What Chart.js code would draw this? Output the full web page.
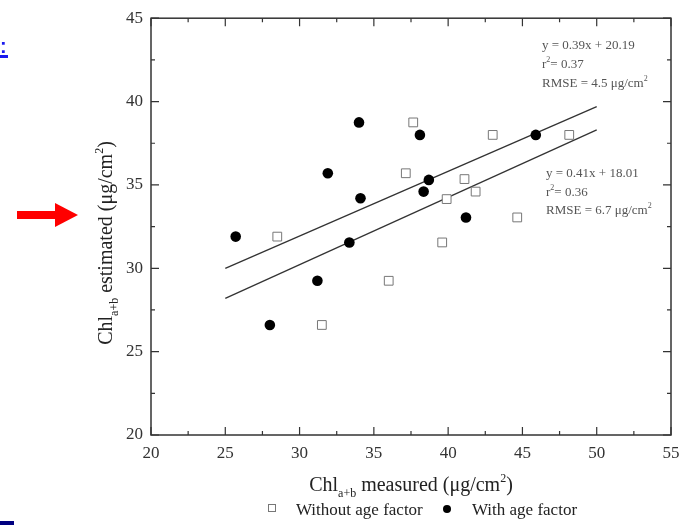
<!DOCTYPE html>
<html>
<head>
<meta charset="utf-8">
<script src="https://cdn.jsdelivr.net/npm/chart.js@4.4.1/dist/chart.umd.min.js"></script>
<style>
  html, body { margin: 0; padding: 0; background: #fff; }
  canvas { display: block; }
</style>
</head>
<body>
<canvas id="chlChart" width="689" height="525"></canvas>
<script>
// values (ug/cm2)
const withoutAgeX = [28.5, 31.5, 36.0, 37.15, 37.65, 39.6, 39.9, 41.1, 41.85, 43.0, 44.65, 48.15];
const withoutAgeY = [31.9, 26.6, 29.25, 35.7, 38.75, 31.55, 34.15, 35.35, 34.6, 38.0, 33.05, 38.0];
const withAgeX = [25.7, 28.0, 31.2, 31.9, 33.35, 34.0, 34.1, 38.1, 38.35, 38.7, 41.2, 45.9];
const withAgeY = [31.9, 26.6, 29.25, 35.7, 31.55, 38.75, 34.2, 38.0, 34.6, 35.3, 33.05, 38.0];

const fitX = [25, 50];
const fitUpperY = [30.0, 39.7];
const fitLowerY = [28.2, 38.3];

const upperText = ['y = 0.39x + 20.19', 'r2= 0.37', 'RMSE = 4.5 \u03bcg/cm2'];
const lowerText = ['y = 0.41x + 18.01', 'r2= 0.36', 'RMSE = 6.7 \u03bcg/cm2'];
const legendLabels = ['Without age factor', 'With age factor'];

const serif = '"Liberation Serif", "Times New Roman", serif';

function pts(xs, ys) {
    return xs.map((x, i) => ({ x: x, y: ys[i] }));
}

// text with sub / superscript pieces: [text, 'n'|'sub'|'sup']
function richWidth(ctx, parts, size) {
    let w = 0;
    parts.forEach(p => {
        ctx.font = (p[1] === 'n' ? size : Math.round(size * 0.6)) + 'px ' + serif;
        w += ctx.measureText(p[0]).width;
    });
    return w;
}
function drawRich(ctx, parts, x, y, size) {
    ctx.textBaseline = 'alphabetic';
    ctx.textAlign = 'left';
    parts.forEach(p => {
        let dy = 0;
        if (p[1] === 'sub') dy = size * 0.3;
        if (p[1] === 'sup') dy = -size * 0.45;
        ctx.font = (p[1] === 'n' ? size : Math.round(size * 0.6)) + 'px ' + serif;
        ctx.fillText(p[0], x, y + dy);
        x += ctx.measureText(p[0]).width;
    });
}
function splitSup(str) {
    // the "2" after r and after cm is a superscript
    const m = str.match(/^(r)(2)(.*)$/);
    if (m) return [[m[1], 'n'], [m[2], 'sup'], [m[3], 'n']];
    const k = str.match(/^(.*cm)(2)$/);
    if (k) return [[k[1], 'n'], [k[2], 'sup']];
    return [[str, 'n']];
}

const framePlugin = {
    id: 'frame',
    afterDraw(chart) {
        const ctx = chart.ctx;
        const a = chart.chartArea;
        const xs = chart.scales.x, ys = chart.scales.y;
        ctx.save();
        ctx.strokeStyle = '#333';
        ctx.lineWidth = 1.5;
        ctx.strokeRect(a.left, a.top, a.right - a.left, a.bottom - a.top);
        ctx.lineWidth = 1.2;
        ctx.beginPath();
        for (let v = xs.min; v <= xs.max + 0.01; v += 2.5) {
            const px = xs.getPixelForValue(v);
            const len = (Math.round(v * 10) % 50 === 0) ? 8 : 4;
            ctx.moveTo(px, a.bottom); ctx.lineTo(px, a.bottom - len);
            ctx.moveTo(px, a.top); ctx.lineTo(px, a.top + len);
        }
        for (let v = ys.min; v <= ys.max + 0.01; v += 2.5) {
            const py = ys.getPixelForValue(v);
            const len = (Math.round(v * 10) % 50 === 0) ? 8 : 4;
            ctx.moveTo(a.left, py); ctx.lineTo(a.left + len, py);
            ctx.moveTo(a.right, py); ctx.lineTo(a.right - len, py);
        }
        ctx.stroke();

        // axis titles
        ctx.fillStyle = '#222';
        const xt = [['Chl', 'n'], ['a+b', 'sub'], [' measured (\u03bcg/cm', 'n'], ['2', 'sup'], [')', 'n']];
        const xw = richWidth(ctx, xt, 20);
        drawRich(ctx, xt, 411 - xw / 2, 491, 20);

        const yt = [['Chl', 'n'], ['a+b', 'sub'], [' estimated (\u03bcg/cm', 'n'], ['2', 'sup'], [')', 'n']];
        const yw = richWidth(ctx, yt, 20);
        ctx.save();
        ctx.translate(112, 243);
        ctx.rotate(-Math.PI / 2);
        drawRich(ctx, yt, -yw / 2, 0, 20);
        ctx.restore();

        // regression annotations
        ctx.fillStyle = '#555';
        upperText.forEach((t, i) => drawRich(ctx, splitSup(t), 542, 49 + i * 19, 13));
        lowerText.forEach((t, i) => drawRich(ctx, splitSup(t), 546, 177 + i * 18.5, 13));

        // legend
        ctx.strokeStyle = '#777';
        ctx.lineWidth = 1;
        ctx.fillStyle = '#fff';
        ctx.fillRect(268.5, 504.5, 7, 7);
        ctx.strokeRect(268.5, 504.5, 7, 7);
        ctx.fillStyle = '#000';
        ctx.beginPath();
        ctx.arc(447, 509, 4, 0, Math.PI * 2);
        ctx.fill();
        ctx.fillStyle = '#222';
        ctx.font = '17px ' + serif;
        ctx.textBaseline = 'alphabetic';
        ctx.textAlign = 'left';
        ctx.fillText(legendLabels[0], 296, 515);
        ctx.fillText(legendLabels[1], 472, 515);

        // slide leftovers at the left edge
        ctx.fillStyle = '#1a1aee';
        ctx.font = 'bold 20px "Liberation Sans", Arial, sans-serif';
        ctx.fillText(':', 0, 53);
        ctx.fillRect(0, 55, 8, 3);
        ctx.fillStyle = '#000080';
        ctx.fillRect(0, 521, 14, 4);
        ctx.fillStyle = '#ff0000';
        ctx.fillRect(17, 211, 39, 8);
        ctx.beginPath();
        ctx.moveTo(55, 203);
        ctx.lineTo(78, 215);
        ctx.lineTo(55, 227);
        ctx.closePath();
        ctx.fill();
        ctx.restore();
    }
};

const ctx = document.getElementById('chlChart').getContext('2d');
const myChart = new Chart(ctx, {
    type: 'scatter',
    data: {
        datasets: [
            {
                label: 'fit upper',
                data: pts(fitX, fitUpperY),
                showLine: true,
                borderColor: '#333',
                borderWidth: 1.3,
                pointRadius: 0,
                order: 3
            },
            {
                label: 'fit lower',
                data: pts(fitX, fitLowerY),
                showLine: true,
                borderColor: '#333',
                borderWidth: 1.3,
                pointRadius: 0,
                order: 3
            },
            {
                label: legendLabels[0],
                data: pts(withoutAgeX, withoutAgeY),
                pointStyle: 'rect',
                pointRadius: 6.2,
                backgroundColor: '#fff',
                borderColor: '#777',
                borderWidth: 1,
                order: 2
            },
            {
                label: legendLabels[1],
                data: pts(withAgeX, withAgeY),
                pointStyle: 'circle',
                pointRadius: 5.3,
                backgroundColor: '#000',
                borderColor: '#000',
                borderWidth: 0,
                order: 1
            }
        ]
    },
    options: {
        responsive: false,
        animation: false,
        devicePixelRatio: 1,
        layout: { padding: { left: 0, top: 14, right: 18, bottom: 0 } },
        plugins: {
            legend: { display: false },
            tooltip: { enabled: false }
        },
        scales: {
            x: {
                type: 'linear',
                min: 20,
                max: 55,
                grid: { display: false, drawTicks: false },
                border: { display: false },
                ticks: {
                    stepSize: 5,
                    padding: 8,
                    color: '#333',
                    font: { family: serif, size: 17 }
                },
                afterFit(scale) { scale.height = 90; }
            },
            y: {
                type: 'linear',
                min: 20,
                max: 45,
                grid: { display: false, drawTicks: false },
                border: { display: false },
                ticks: {
                    stepSize: 5,
                    padding: 8,
                    color: '#333',
                    font: { family: serif, size: 17 }
                },
                afterFit(scale) { scale.width = 151; }
            }
        }
    },
    plugins: [framePlugin]
});
</script>
</body>
</html>
